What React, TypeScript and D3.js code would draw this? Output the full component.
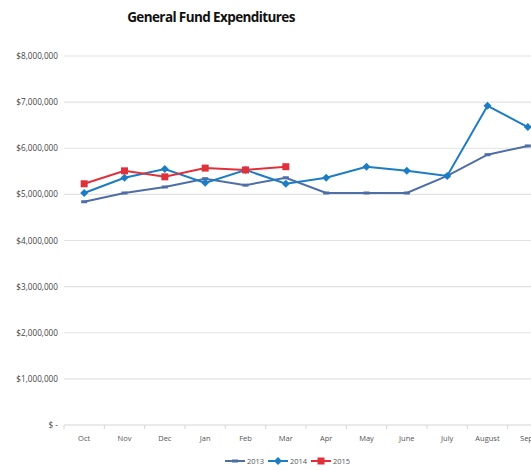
import React from "react";
import * as d3 from "d3";

const months = ["Oct", "Nov", "Dec", "Jan", "Feb", "Mar", "Apr", "May", "June", "July", "August", "Sept"];
const fy2013 = [4840000, 5030000, 5160000, 5340000, 5200000, 5360000, 5030000, 5030000, 5030000, 5400000, 5860000, 6050000];
const fy2014 = [5030000, 5360000, 5550000, 5250000, 5530000, 5230000, 5360000, 5600000, 5510000, 5400000, 6920000, 6460000];
const fy2015 = [5230000, 5510000, 5380000, 5570000, 5530000, 5600000];
const yTicks = [0, 1000000, 2000000, 3000000, 4000000, 5000000, 6000000, 7000000, 8000000];

const seriesList = [
  { name: "2013", values: fy2013, color: "#4e6ea6", marker: "dash" },
  { name: "2014", values: fy2014, color: "#1c7cc4", marker: "diamond" },
  { name: "2015", values: fy2015, color: "#e0313b", marker: "square" },
];

const fmt = (v: number) => (v === 0 ? "$ -" : "$" + d3.format(",")(v));

function Marker({ type, x, y, color }: { type: string; x: number; y: number; color: string }) {
  if (type === "square") return <rect x={x - 3.5} y={y - 3.5} width={7} height={7} fill={color} />;
  if (type === "diamond")
    return <path d={`M${x},${y - 4}L${x + 4},${y}L${x},${y + 4}L${x - 4},${y}Z`} fill={color} />;
  return <rect x={x - 3} y={y - 1.5} width={6} height={3} fill={color} />;
}

export default function App() {
  const width = 531;
  const height = 470;
  const x = d3.scaleBand().domain(months).range([64, 548]);
  const y = d3.scaleLinear().domain([0, 8000000]).range([425, 56]);
  const cx = (m: string) => (x(m) as number) + x.bandwidth() / 2;
  const line = d3
    .line<number>()
    .x((_, i) => cx(months[i]))
    .y((d) => y(d));

  const legendX = [225, 268, 311];

  return (
    <svg
      width={width}
      height={height}
      style={{ position: "absolute", left: 0, top: 0, background: "#fff" }}
      fontFamily="'Open Sans', sans-serif"
    >
      <text x={211} y={22} textAnchor="middle" fontSize={13.5} fontWeight="bold" letterSpacing={-0.6} fill="#111">
        General Fund Expenditures
      </text>
      {yTicks.map((t) => (
        <g key={t}>
          {t > 0 && <line x1={64} x2={width} y1={y(t)} y2={y(t)} stroke="#e2e2e2" strokeWidth={1.2} />}
          <text x={58} y={y(t) + 3} textAnchor="end" fontSize={8.2} fill="#444">
            {fmt(t)}
          </text>
        </g>
      ))}
      <line x1={64} x2={width} y1={y(0)} y2={y(0)} stroke="#d6d6d6" strokeWidth={1.2} />
      {months.map((m) => (
        <g key={m}>
          <line x1={x(m) as number} x2={x(m) as number} y1={y(0)} y2={y(0) + 4} stroke="#d6d6d6" />
          <text x={cx(m)} y={441} textAnchor="middle" fontSize={7.5} fill="#555">
            {m}
          </text>
        </g>
      ))}
      {seriesList.map((s) => (
        <g key={s.name}>
          <path d={line(s.values) || ""} fill="none" stroke={s.color} strokeWidth={2} />
          {s.values.map((v, i) => (
            <Marker key={i} type={s.marker} x={cx(months[i])} y={y(v)} color={s.color} />
          ))}
        </g>
      ))}
      {seriesList.map((s, i) => (
        <g key={s.name}>
          <line x1={legendX[i]} x2={legendX[i] + 20} y1={461} y2={461} stroke={s.color} strokeWidth={2} />
          <Marker type={s.marker} x={legendX[i] + 10} y={461} color={s.color} />
          <text x={legendX[i] + 22} y={464} fontSize={7.5} fill="#555">
            {s.name}
          </text>
        </g>
      ))}
    </svg>
  );
}
